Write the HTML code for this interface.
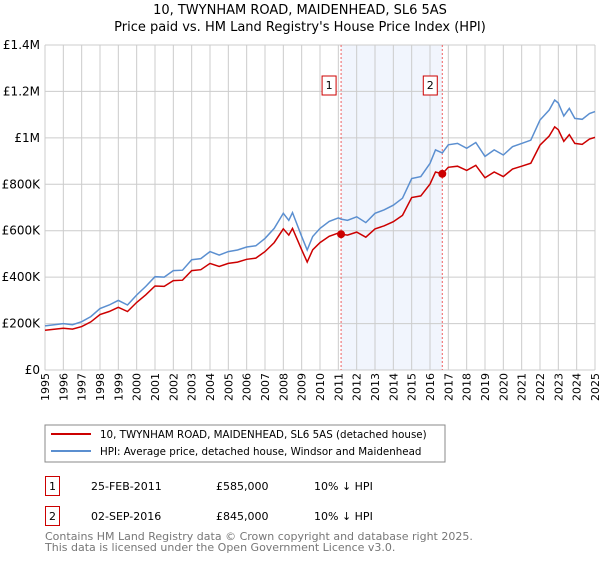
<!DOCTYPE html>
<html><head><meta charset="utf-8"><style>
body{margin:0;width:600px;height:560px;background:#fff;font-family:"Liberation Sans","DejaVu Sans",sans-serif;overflow:hidden}
svg text{font-family:"DejaVu Sans","Liberation Sans",sans-serif}
</style></head><body>
<svg id="c" width="600" height="560">
<text x="300" y="14" text-anchor="middle" font-size="13">10, TWYNHAM ROAD, MAIDENHEAD, SL6 5AS</text>
<text x="300" y="31" text-anchor="middle" font-size="13">Price paid vs. HM Land Registry's House Price Index (HPI)</text>
<g id="plot"></g>
<rect x="45" y="425" width="400" height="37" fill="#fff" stroke="#888"/>
<line x1="51" y1="434" x2="91" y2="434" stroke="#cc0000" stroke-width="2"/>
<text x="100" y="438" font-size="10.3">10, TWYNHAM ROAD, MAIDENHEAD, SL6 5AS (detached house)</text>
<line x1="51" y1="451" x2="91" y2="451" stroke="#5b8fd0" stroke-width="2"/>
<text x="100" y="455" font-size="10.3">HPI: Average price, detached house, Windsor and Maidenhead</text>
<g font-size="11">
<rect x="45.5" y="476.5" width="14" height="19" fill="none" stroke="#cc0000"/><text x="52.5" y="490" text-anchor="middle">1</text>
<text x="91" y="490">25-FEB-2011</text><text x="216" y="490">£585,000</text><text x="314" y="490">10% ↓ HPI</text></g>
<g font-size="11">
<rect x="45.5" y="506.5" width="14" height="19" fill="none" stroke="#cc0000"/><text x="52.5" y="520" text-anchor="middle">2</text>
<text x="91" y="520">02-SEP-2016</text><text x="216" y="520">£845,000</text><text x="314" y="520">10% ↓ HPI</text></g>
<text x="45" y="540" font-size="11" fill="#777">Contains HM Land Registry data © Crown copyright and database right 2025.</text>
<text x="45" y="551" font-size="11" fill="#777">This data is licensed under the Open Government Licence v3.0.</text>
</svg>
<script>
const hpiYears=[1995,1996,1996.5,1997,1997.5,1998,1998.5,1999,1999.5,2000,2000.5,2001,2001.5,2002,2002.5,2003,2003.5,2004,2004.5,2005,2005.5,2006,2006.5,2007,2007.5,2008,2008.3,2008.5,2009,2009.3,2009.6,2010,2010.5,2011,2011.15,2011.5,2012,2012.5,2013,2013.5,2014,2014.5,2015,2015.5,2016,2016.3,2016.67,2017,2017.5,2018,2018.5,2019,2019.5,2020,2020.5,2021,2021.5,2022,2022.5,2022.8,2023,2023.3,2023.6,2023.9,2024.3,2024.7,2025];
const hpiValues=[190,200,195,208,230,265,280,300,280,323,360,402,400,428,430,475,480,510,495,510,517,530,535,567,610,675,645,678,575,517,575,610,640,655,650,645,660,635,675,690,710,740,825,833,890,948,935,970,976,955,980,920,948,926,962,976,990,1077,1120,1163,1150,1094,1127,1084,1080,1105,1113];
const priceValues=[171,180,176,187,207,239,252,270,252,291,324,362,360,385,387,428,432,459,446,459,465,477,482,510,549,608,581,610,518,465,518,549,576,590,585,581,594,572,608,621,639,666,743,750,801,853,845,873,878,860,882,828,853,833,866,878,891,969,1008,1047,1035,985,1014,976,972,995,1002];
const yTicks=[0,200,400,600,800,1000,1200,1400];
const yTickLabels=["£0","£200K","£400K","£600K","£800K","£1M","£1.2M","£1.4M"];
const xTicks=[1995,1996,1997,1998,1999,2000,2001,2002,2003,2004,2005,2006,2007,2008,2009,2010,2011,2012,2013,2014,2015,2016,2017,2018,2019,2020,2021,2022,2023,2024,2025];
const sales=[[2011.15,585,"1"],[2016.67,845,"2"]];
const NS="http://www.w3.org/2000/svg";
const X0=45,X1=595,Y0=370,Y1=45;
const sx=t=>X0+(t-1995)/30*(X1-X0);
const sy=v=>Y0-v/1400*(Y0-Y1);
const g=document.getElementById('plot');
function mk(tag,a){const e=document.createElementNS(NS,tag);for(const k in a)e.setAttribute(k,a[k]);g.appendChild(e);return e;}
const band=mk('rect',{x:sx(sales[0][0]),y:Y1,width:sx(sales[1][0])-sx(sales[0][0]),height:Y0-Y1,fill:'#eef3fc',opacity:0.8});


xTicks.forEach(t=>{const l=mk('line',{x1:sx(t),x2:sx(t),y1:Y1,y2:Y0,stroke:'#ccc'});


const tx=mk('text',{x:0,y:0,'font-size':11,'text-anchor':'end',transform:`translate(${sx(t)+4},${Y0+3}) rotate(-90)`});tx.textContent=t;

});
yTicks.forEach((v,i)=>{const l=mk('line',{x1:X0,x2:X1,y1:sy(v),y2:sy(v),stroke:'#ccc'});


const tx=mk('text',{x:X0-5,y:sy(v)+4,'font-size':12,'text-anchor':'end'});tx.textContent=yTickLabels[i];

});
sales.forEach(s=>{const l=mk('line',{x1:sx(s[0]),x2:sx(s[0]),y1:Y1,y2:Y0,stroke:'#f06060','stroke-dasharray':'2,2'});


const r=mk('rect',{x:sx(s[0])-19,y:76,width:14,height:19,fill:'#fff',stroke:'#cc0000'});


const tx=mk('text',{x:sx(s[0])-12,y:89,'font-size':11,'text-anchor':'middle'});tx.textContent=s[2];

});
const pts=v=>hpiYears.map((t,i)=>sx(t).toFixed(1)+','+sy(v[i]).toFixed(1)).join(' ');
const hl=mk('polyline',{points:pts(hpiValues),fill:'none',stroke:'#5b8fd0','stroke-width':1.5});


const pl=mk('polyline',{points:pts(priceValues),fill:'none',stroke:'#cc0000','stroke-width':1.5});


sales.forEach(s=>{const c=mk('circle',{cx:sx(s[0]),cy:sy(s[1]),r:4,fill:'#cc0000'});

});
</script>
</body></html>
